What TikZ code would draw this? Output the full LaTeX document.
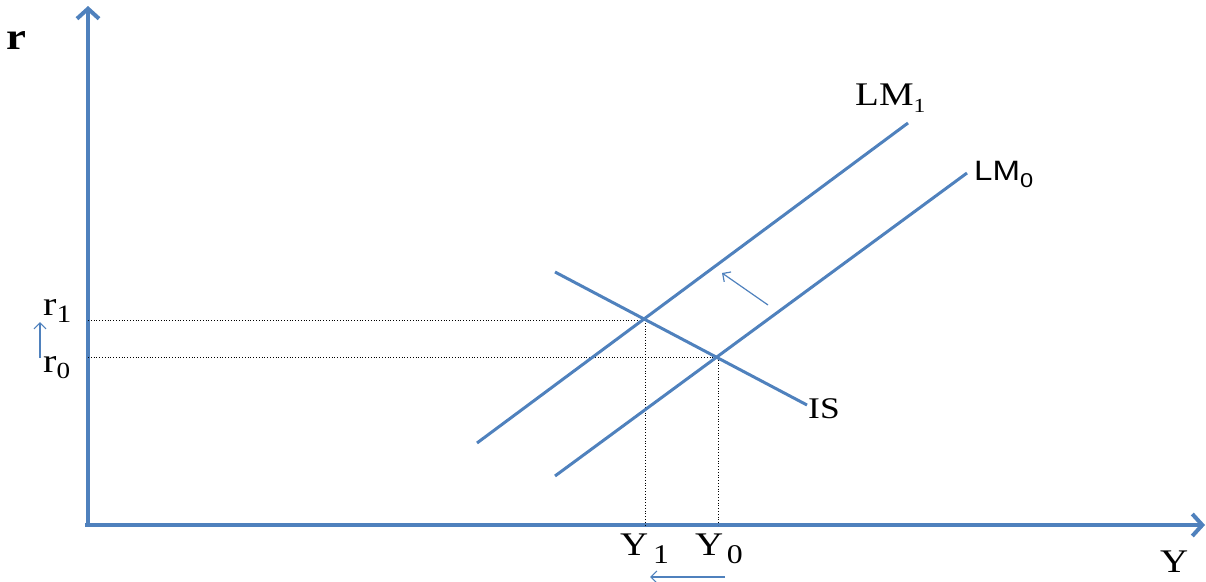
\documentclass[tikz,border=0pt]{standalone}
\usepackage{graphicx}
\usepackage{fontspec}
\setmainfont{Liberation Serif}
\newfontfamily\lmsans{Liberation Sans}
\usetikzlibrary{arrows.meta}
\definecolor{ofblue}{HTML}{4F81BD}
\newcommand{\wtxt}[1]{\scalebox{1.18}[1]{#1}}
\newcommand{\fs}[1]{\fontsize{#1}{#1}\selectfont}
\tikzset{
  axis/.style={draw=ofblue, line width=4pt, -{Straight Barb[length=10pt,width=22pt,line width=4pt]}},
  curve/.style={draw=ofblue, line width=3pt},
  guide/.style={draw=black, line width=0.8pt, dotted},
  shiftarrow/.style={draw=ofblue, line width=1.2pt, -{Straight Barb[length=6pt,width=12pt,line width=1.2pt]}},
  lbl/.style={inner sep=0pt, anchor=base west},
}
\begin{document}
\begin{tikzpicture}[x=1pt,y=-1pt]
\useasboundingbox (0,0) rectangle (1206,581);
% key points
\coordinate (O) at (88,525);
\coordinate (yTop) at (88,6);
\coordinate (xEnd) at (1205,525);
\coordinate (LM1a) at (477,443);
\coordinate (LM1b) at (908,123);
\coordinate (LM0a) at (555,476);
\coordinate (LM0b) at (967,173);
\coordinate (ISa) at (555,272);
\coordinate (ISb) at (807,405);
\coordinate (E1) at (645,320);
\coordinate (E0) at (718,357);
\coordinate (r1ax) at (88,320);
\coordinate (r0ax) at (88,357);
\coordinate (Y1ax) at (645,525);
\coordinate (Y0ax) at (718,525);
% axes
\draw[axis] (O) -- (yTop);
\draw[axis] (85,525) -- (xEnd);
% guides
\draw[guide] (r1ax) -- (E1) -- (Y1ax);
\draw[guide] (r0ax) -- (E0) -- (Y0ax);
% curves
\draw[curve] (LM1a) -- (LM1b);
\draw[curve] (LM0a) -- (LM0b);
\draw[curve] (ISa) -- (ISb);
% shift arrows
\coordinate (sA) at (768,305);
\coordinate (sB) at (722,273);
\draw[shiftarrow] (sA) -- (sB);
\coordinate (rA) at (40,358);
\coordinate (rB) at (40,322);
\draw[shiftarrow] (rA) -- (rB);
\coordinate (yA) at (725,577);
\coordinate (yB) at (650,577);
\draw[shiftarrow] (yA) -- (yB);
% labels
\node[inner sep=0pt, font=\fs{38}\bfseries] (r) at (16,40) {\wtxt{r}};
\node[lbl] (r1) at (43,315) {\wtxt{\fs{34}r\raisebox{-7pt}{\fs{25}1}}};
\node[lbl] (r0) at (43,372) {\wtxt{\fs{34}r\raisebox{-6pt}{\fs{23}0}}};
\node[lbl] (Y1) at (620,555) {\wtxt{\fs{33}Y\hspace{4pt}\raisebox{-8pt}{\fs{27}1}}};
\node[lbl] (Y0) at (695,555) {\wtxt{\fs{33}Y\hspace{3pt}\raisebox{-8pt}{\fs{27}0}}};
\node[lbl] (Y) at (1160,572) {\wtxt{\fs{33}Y}};
\node[lbl] (LM1) at (855,105) {\wtxt{\fs{33}LM\raisebox{-7pt}{\fs{20}1}}};
\node[lbl] (LM0) at (974,180) {\wtxt{\lmsans\fs{28}LM\raisebox{-7pt}{\fs{20}0}}};
\node[lbl] (IS) at (808,418) {\wtxt{\fs{30}IS}};
\end{tikzpicture}
\end{document}
